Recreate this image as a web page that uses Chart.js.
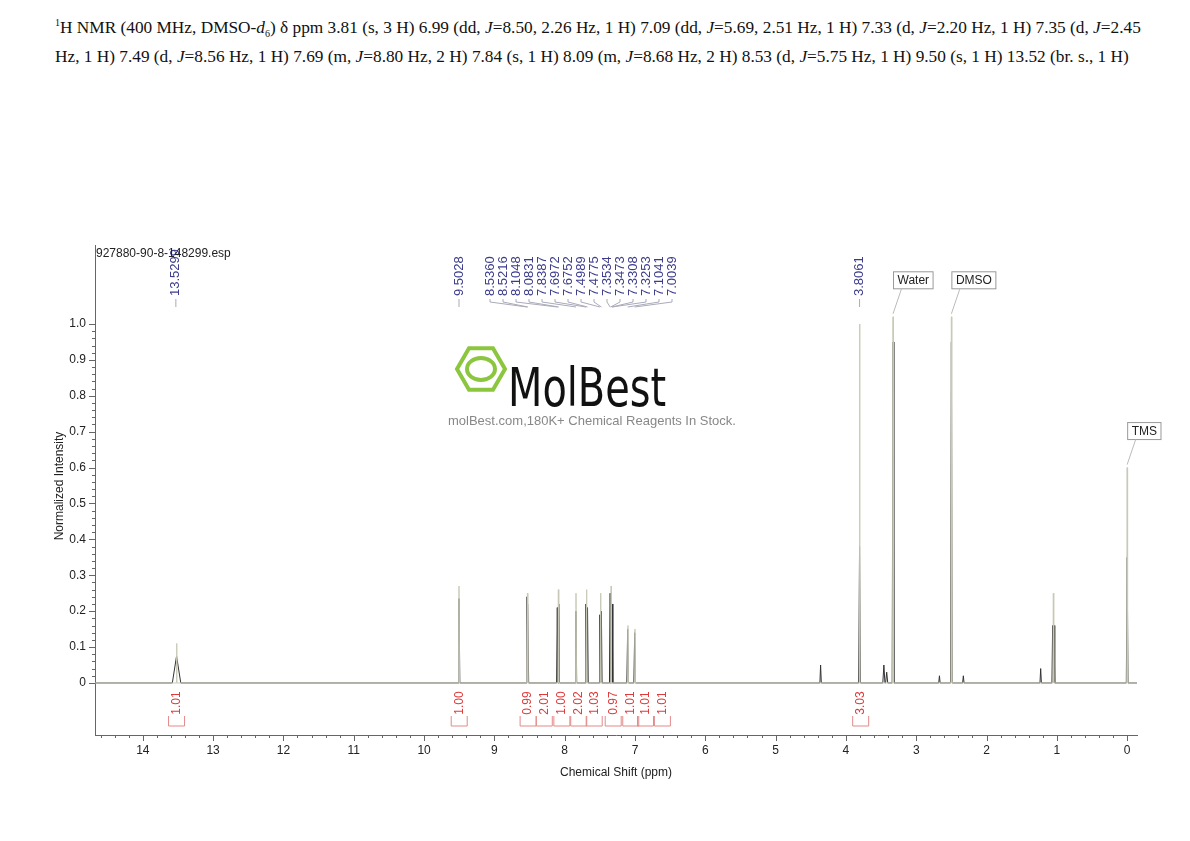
<!DOCTYPE html>
<html><head><meta charset="utf-8">
<script src="https://cdn.jsdelivr.net/npm/chart.js@4"></script>
<style>
body{margin:0;background:#fff;width:1190px;height:841px;overflow:hidden;position:relative}
#t{position:absolute;left:55px;top:8px;width:1100px;font-family:"Liberation Serif",serif;font-size:17.3px;line-height:29px;color:#111;white-space:nowrap}
canvas{position:absolute;left:0;top:0}
</style></head><body>
<div id="t"><sup style="font-size:10px">1</sup>H NMR (400 MHz, DMSO-<i>d</i><sub style="font-size:10px;line-height:0">6</sub>) δ ppm 3.81 (s, 3 H) 6.99 (dd, <i>J</i>=8.50, 2.26 Hz, 1 H) 7.09 (dd, <i>J</i>=5.69, 2.51 Hz, 1 H) 7.33 (d, <i>J</i>=2.20 Hz, 1 H) 7.35 (d, <i>J</i>=2.45<br>Hz, 1 H) 7.49 (d, <i>J</i>=8.56 Hz, 1 H) 7.69 (m, <i>J</i>=8.80 Hz, 2 H) 7.84 (s, 1 H) 8.09 (m, <i>J</i>=8.68 Hz, 2 H) 8.53 (d, <i>J</i>=5.75 Hz, 1 H) 9.50 (s, 1 H) 13.52 (br. s., 1 H)</div>
<canvas id="c" width="1190" height="841"></canvas>
<script>
// Peak data (ppm, normalized height)
const peakShifts = [13.52, 9.503, 8.536, 8.522, 8.105, 8.083, 7.839, 7.697, 7.675, 7.499, 7.478, 7.353, 7.347, 7.331, 7.325, 7.104, 7.004, 4.36, 3.806, 3.46, 3.42, 3.33, 2.67, 2.50, 2.33, 1.23, 1.06, 1.04, 0.0];
const peakHeights = [0.075, 0.235, 0.24, 0.22, 0.21, 0.22, 0.20, 0.22, 0.21, 0.19, 0.20, 0.25, 0.24, 0.23, 0.22, 0.15, 0.14, 0.05, 0.38, 0.05, 0.03, 0.95, 0.02, 0.95, 0.02, 0.04, 0.16, 0.16, 0.35];
const peakWidths = [0.06, 0.012, 0.01, 0.01, 0.01, 0.01, 0.01, 0.01, 0.01, 0.01, 0.01, 0.01, 0.01, 0.01, 0.01, 0.012, 0.012, 0.01, 0.012, 0.015, 0.015, 0.012, 0.01, 0.012, 0.01, 0.01, 0.01, 0.01, 0.012];
// Light overlay (full-height) traces
const tallShifts = [13.52, 9.503, 8.53, 8.09, 7.839, 7.69, 7.49, 7.34, 7.10, 7.00, 3.806, 3.33, 2.50, 1.05, 0.0];
const tallHeights = [0.11, 0.27, 0.25, 0.26, 0.25, 0.26, 0.25, 0.27, 0.16, 0.15, 1.0, 1.02, 1.02, 0.25, 0.60];
const peakLabels = ["13.5299","9.5028","8.5360","8.5216","8.1048","8.0831","7.8387","7.6972","7.6752","7.4989","7.4775","7.3534","7.3473","7.3308","7.3253","7.1041","7.0039","3.8061"];
const integralValues = ["1.01","1.00","0.99","2.01","1.00","2.02","1.03","0.97","1.01","1.01","1.01","3.03"];
const integralPos = [13.52, 9.50, 8.52, 8.29, 8.04, 7.80, 7.58, 7.31, 7.06, 6.85, 6.61, 3.79];
const xTicks = [0,1,2,3,4,5,6,7,8,9,10,11,12,13,14];
const yTicks = [0,0.1,0.2,0.3,0.4,0.5,0.6,0.7,0.8,0.9,1.0];
const solventLabels = [["Water",3.33,1.02],["DMSO",2.50,1.02],["TMS",0.0,0.60]];

function stick(shifts, heights, widths){
  const pts=[{x:14.68,y:0}];
  const idx=shifts.map((s,i)=>i).sort((a,b)=>shifts[b]-shifts[a]);
  idx.forEach(i=>{const w=widths?widths[i]:0.006;pts.push({x:shifts[i]+w,y:0},{x:shifts[i],y:heights[i]},{x:shifts[i]-w,y:0});});
  pts.push({x:-0.14,y:0});return pts;
}
const labelPlugin={id:'lbl',afterDraw(ch){
  const c=ch.ctx,xs=ch.scales.x,ys=ch.scales.y,a=ch.chartArea;
  c.save();
  c.strokeStyle='#666';c.lineWidth=1;
  for(let v=0;v<=14.6;v+=0.2){const px=Math.round(xs.getPixelForValue(v))+.5;c.beginPath();c.moveTo(px,a.bottom);c.lineTo(px,a.bottom+(Math.abs(v-Math.round(v))<1e-6?6:3));c.stroke();}
  for(let v=0;v<=1.0001;v+=0.02){const py=Math.round(ys.getPixelForValue(v))+.5;c.beginPath();c.moveTo(a.left,py);c.lineTo(a.left-(Math.abs(v*10-Math.round(v*10))<1e-6?6:3),py);c.stroke();}
  c.fillStyle='#222';c.font='12px "Liberation Sans",Arial';c.textAlign='center';c.textBaseline='middle';
  c.save();c.translate(60,486);c.rotate(-Math.PI/2);c.fillText('Normalized Intensity',0,0);c.restore();
  c.font='13px "Liberation Sans",Arial';c.fillStyle='#3c3c8c';c.textAlign='left';
  const grpStart=490,grpStep=13;
  peakLabels.forEach((l,i)=>{
    const v=parseFloat(l);let px;
    if(i>=2&&i<=16){px=grpStart+(i-2)*grpStep;}else px=xs.getPixelForValue(v);
    c.save();c.translate(px,296);c.rotate(-Math.PI/2);c.fillText(l,0,0);c.restore();
    c.strokeStyle='#aab';c.beginPath();c.moveTo(px,299);c.lineTo(px,302);c.lineTo(xs.getPixelForValue(v),307);c.stroke();
  });
  c.fillStyle='#222';c.textAlign='left';c.font='12px "Liberation Sans",Arial';
  c.fillText('927880-90-8-148299.esp',96,254);
  solventLabels.forEach(([t,v,h])=>{const px=xs.getPixelForValue(v),py=ys.getPixelForValue(h);const w=c.measureText(t).width+8;
    const bx=px+0.5,by=py-45;c.fillStyle='#fff';c.strokeStyle='#999';c.strokeRect(bx,by,w,17);c.fillStyle='#222';c.fillText(t,bx+4,by+9);
    c.strokeStyle='#bbb';c.beginPath();c.moveTo(bx+8,by+17);c.lineTo(px,py-3);c.stroke();});
  c.fillStyle='#e03a3a';c.strokeStyle='#e38a8a';c.textAlign='center';c.font='12px "Liberation Sans",Arial';
  integralValues.forEach((t,i)=>{const px=xs.getPixelForValue(integralPos[i]);
    c.save();c.translate(px,703);c.rotate(-Math.PI/2);c.fillText(t,0,0);c.restore();
    c.beginPath();c.moveTo(px-8,716);c.lineTo(px-8,726);c.lineTo(px+8,726);c.lineTo(px+8,716);c.stroke();});
  c.strokeStyle='#8cc63f';c.lineWidth=4;const hx=481,hy=369,r=24;c.beginPath();
  for(let k=0;k<6;k++){const an=Math.PI/3*k;c.lineTo(hx+r*Math.cos(an),hy+r*Math.sin(an));}c.closePath();c.stroke();
  c.beginPath();c.ellipse(hx,hy,14,11,0,0,2*Math.PI);c.stroke();
  c.fillStyle='#111';c.textAlign='left';c.font='54px "DejaVu Sans Condensed","Liberation Sans Narrow",sans-serif';
  c.save();c.translate(508,392);c.scale(0.82,1);c.fillText('MolBest',0,0);c.restore();
  c.fillStyle='#888';c.font='13px "Liberation Sans",Arial';c.fillText('molBest.com,180K+ Chemical Reagents In Stock.',448,421);
  c.restore();
}};
new Chart(document.getElementById('c'),{type:'line',
 data:{datasets:[
  {data:stick(tallShifts,tallHeights,null),borderColor:'#c9c9b8',borderWidth:1,pointRadius:0,tension:0},
  {data:stick(peakShifts,peakHeights,peakWidths),borderColor:'#333',borderWidth:1,pointRadius:0,tension:0}
 ]},
 options:{responsive:false,animation:false,events:[],
  layout:{padding:{top:245,right:53,bottom:61,left:0}},
  plugins:{legend:{display:false},tooltip:{enabled:false}},
  scales:{
   x:{type:'linear',reverse:true,min:-0.14,max:14.68,grid:{display:false,drawTicks:false},border:{color:'#666'},
      afterBuildTicks:s=>{s.ticks=xTicks.map(v=>({value:v}));},
      ticks:{color:'#222',font:{size:12,family:'Liberation Sans'},padding:8,maxRotation:0,autoSkip:false},
      title:{display:true,text:'Chemical Shift (ppm)',color:'#222',font:{size:12,family:'Liberation Sans'},padding:0},
      afterFit:s=>{s.height=45;}},
   y:{type:'linear',min:-0.145,max:1.22,grid:{display:false,drawTicks:false},border:{color:'#666'},
      afterBuildTicks:s=>{s.ticks=yTicks.map(v=>({value:v}));},
      ticks:{color:'#222',font:{size:12,family:'Liberation Sans'},padding:9,callback:v=>v===0?'0':v.toFixed(1)},
      afterFit:s=>{s.width=95;}}
  }},
 plugins:[labelPlugin]});
</script>
</body></html>
